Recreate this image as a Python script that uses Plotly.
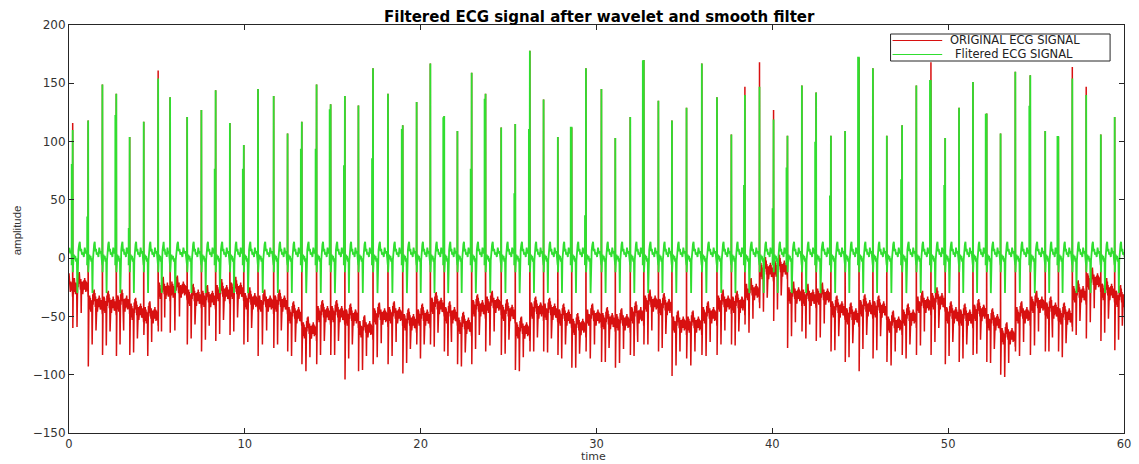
import plotly.graph_objects as go

# R-peak instants (s) and amplitudes of each heartbeat
beat_times = [
    0.21, 1.09, 1.90, 2.69, 3.45, 4.25, 5.07, 5.75, 6.72, 7.53, 8.34, 9.15,
    9.94, 10.75, 11.64, 12.43, 13.24, 14.08, 14.88, 15.69, 16.46, 17.29, 18.14,
    18.98, 19.77, 20.55, 21.34, 22.09, 22.90, 23.69, 24.58, 25.38, 26.21, 26.99,
    27.80, 28.59, 29.40, 30.28, 31.07, 31.92, 32.69, 33.52, 34.29, 35.12, 35.99,
    36.85, 37.67, 38.44, 39.27, 40.07,
    40.86, 41.68, 42.49, 43.33, 44.14, 44.93, 45.72, 46.51, 47.38, 48.19, 49.02,
    49.83, 50.62, 51.41, 52.19, 52.98, 53.82, 54.67, 55.52, 56.27, 57.06, 57.85,
    58.68, 59.47,
]
filtered_peaks = [
    110, 118, 149, 141, 104, 117, 154, 138, 121, 127, 144, 116,
    97, 145, 139, 107, 117, 149, 132, 139, 131, 163, 141,
    114, 134, 167, 122, 109, 159, 141, 112, 115, 178, 136,
    104, 112, 163, 145, 103, 121, 170, 135, 118, 129, 167,
    138, 106, 140, 147, 119,
    105, 148, 142, 105, 109, 172, 163, 105, 114, 148, 152,
    103, 129, 151, 124, 107, 160, 157, 109, 104, 154, 140,
    106, 121,
]
original_peaks = [
    116, 118, 149, 141, 104, 117, 161, 138, 121, 127, 144, 116,
    97, 145, 139, 107, 117, 149, 132, 139, 131, 163, 141,
    114, 134, 167, 122, 109, 159, 141, 112, 115, 178, 136,
    104, 112, 163, 145, 103, 121, 170, 135, 118, 129, 167,
    138, 106, 147, 168, 127,
    105, 148, 142, 105, 109, 172, 163, 105, 114, 148, 168,
    103, 129, 151, 124, 107, 160, 157, 109, 104, 164, 147,
    106, 121,
]
# level of the doubled (thicker) lower part of each filtered QRS stroke, 0 = none
filtered_notch = [
    80, 35, 0, 122, 25, 0, 0, 0, 0, 0, 76, 0,
    76, 0, 0, 0, 93, 93, 127, 79, 0, 85, 0,
    110, 0, 0, 120, 0, 76, 136, 0, 55, 110, 0,
    0, 112, 36, 0, 0, 0, 169, 0, 0, 0, 0,
    0, 0, 62, 0, 42,
    77, 0, 99, 53, 0, 172, 0, 0, 67, 0, 152,
    62, 0, 0, 123, 0, 0, 130, 0, 104, 0, 0,
    0, 0,
]
# baseline wander of the original recording, one level per beat
original_baseline = [
    -25, -40, -41, -40, -47, -50, -29, -28, -35, -36, -31, -29,
    -38, -40, -40, -50, -63, -49, -49, -52, -62, -51, -50,
    -56, -52, -42, -50, -59, -44, -41, -48, -63, -46, -47,
    -52, -60, -52, -55, -56, -50, -40, -43, -58, -58, -50,
    -40, -41, -30, -12, -10,
    -33, -35, -34, -45, -51, -44, -45, -58, -52, -41, -38,
    -50, -52, -48, -56, -68, -50, -41, -46, -51, -32, -21,
    -30, -36,
]
# S-wave minimum of the original recording for each beat
original_dips = [
    -60, -93, -83, -84, -83, -66, -63, -64, -74, -80, -71, -66,
    -74, -84, -77, -80, -91, -91, -83, -104, -97, -91, -91,
    -99, -74, -74, -80, -91, -91, -80, -83, -96, -80, -80,
    -83, -94, -80, -89, -94, -83, -74, -80, -101, -86, -83,
    -83, -74, -57, -43, -54,
    -77, -63, -71, -80, -89, -97, -86, -89, -83, -83, -83,
    -91, -89, -83, -89, -100, -80, -83, -80, -80, -63, -69,
    -71, -79,
]

# beat morphology between consecutive R peaks (fraction of the RR interval, amplitude)
filtered_frac = [0.04, 0.08, 0.12, 0.17, 0.22, 0.27, 0.30, 0.33, 0.37, 0.42,
                 0.46, 0.50, 0.55, 0.60, 0.66, 0.72, 0.78, 0.84, 0.90, 0.95]
filtered_shape = [-3, 3, -1, 2, -3, 0, -30, -2, 7, 12,
                  14, 6, 8, 3, 5, 1, 9, 4, 6, 0]
original_frac = [0.030, 0.055, 0.080, 0.105, 0.130, 0.155, 0.180, 0.205, 0.230, 0.255,
                 0.280, 0.300, 0.325, 0.350, 0.375, 0.400, 0.425, 0.450, 0.475, 0.500,
                 0.525, 0.550, 0.575, 0.600, 0.625, 0.650, 0.675, 0.700, 0.725, 0.750,
                 0.775, 0.800, 0.825, 0.850, 0.875, 0.900, 0.925, 0.950, 0.970]
original_shape = [-8, 5, -4, 8, -2, 6, -6, 4, -3, 3,
                  -34, -4, 9, 0, 12, 3, 13, 5, 10, -2,
                  7, -22, 4, -4, 5, -6, 3, -3, 6, -2,
                  8, 0, 6, -4, 5, -3, 4, -2, 2]

Q_FILTERED = -6
S_FILTERED = -12
Q_ORIGINAL = -8


def rr_after(i):
    if i + 1 < len(beat_times):
        return beat_times[i + 1] - beat_times[i]
    return beat_times[i] - beat_times[i - 1]


def filtered_series():
    xs, ys = [], []
    rr0 = rr_after(0)
    start = beat_times[0] - rr0
    for f, v in zip(filtered_frac, filtered_shape):
        t = start + f * rr0
        if t >= 0:
            xs.append(t)
            ys.append(v)
    for i, r in enumerate(beat_times):
        if filtered_notch[i]:
            xs += [r - 0.06, r - 0.055, r - 0.006]
            ys += [Q_FILTERED, filtered_notch[i], filtered_notch[i]]
        else:
            xs.append(r - 0.008)
            ys.append(Q_FILTERED)
        xs += [r, r + 0.008]
        ys += [filtered_peaks[i], S_FILTERED]
        rr = rr_after(i)
        for f, v in zip(filtered_frac, filtered_shape):
            xs.append(r + f * rr)
            ys.append(v)
    return xs, ys


def original_series():
    xs, ys = [], []
    rr0 = rr_after(0)
    start = beat_times[0] - rr0
    xs.append(0)
    ys.append(original_baseline[0] + 12)
    for f, v in zip(original_frac, original_shape):
        t = start + f * rr0
        if t > 0:
            xs.append(t)
            ys.append(original_baseline[0] + v)
    for i, r in enumerate(beat_times):
        prev_base = original_baseline[i - 1] if i else original_baseline[0]
        xs += [r - 0.006, r, r + 0.008]
        ys += [prev_base + Q_ORIGINAL, original_peaks[i], original_dips[i]]
        rr = rr_after(i)
        for f, v in zip(original_frac, original_shape):
            xs.append(r + f * rr)
            ys.append(original_baseline[i] + v)
    return xs, ys


RED = "rgb(216,16,16)"
GREEN = "rgb(48,222,48)"
AXIS = "#262626"

ox, oy = original_series()
fx, fy = filtered_series()

fig = go.Figure()
fig.add_trace(go.Scatter(x=ox, y=oy, mode="lines", name="ORIGINAL ECG SIGNAL",
                         line=dict(color=RED, width=1.5), showlegend=False))
fig.add_trace(go.Scatter(x=fx, y=fy, mode="lines", name="Flitered ECG SIGNAL",
                         line=dict(color=GREEN, width=1.8), showlegend=False))

W, H = 1139, 464
L, R, T, B = 69, 8, 25, 31
pw, ph = W - L - R, H - T - B


def px(xp):
    return (xp - L) / pw


def py(yp):
    return (H - B - yp) / ph


x_tick_font = dict(family="DejaVu Sans", size=11.5, color="#333333")
y_tick_font = dict(family="DejaVu Sans", size=12, color="#333333")
fig.update_layout(
    width=W, height=H,
    margin=dict(l=L, r=R, t=T, b=B),
    paper_bgcolor="white", plot_bgcolor="white",
    xaxis=dict(range=[0, 60], tickvals=[0, 10, 20, 30, 40, 50, 60],
               ticks="inside", ticklen=5, tickcolor=AXIS, showline=True,
               linecolor=AXIS, linewidth=1, mirror="ticks", showgrid=False,
               zeroline=False, tickfont=x_tick_font),
    yaxis=dict(range=[-150, 200], tickvals=[-150, -100, -50, 0, 50, 100, 150, 200],
               ticks="inside", ticklen=5, tickcolor=AXIS, showline=True,
               linecolor=AXIS, linewidth=1, mirror="ticks", showgrid=False,
               zeroline=False, tickfont=y_tick_font),
)

# title and axis labels
fig.add_annotation(text="<b>Filtered ECG signal after wavelet and smooth filter</b>",
                   xref="paper", yref="paper", x=px(603), y=py(16.5),
                   xanchor="center", yanchor="middle", showarrow=False,
                   font=dict(family="DejaVu Sans", size=15, color="black"))
fig.add_annotation(text="time", xref="paper", yref="paper", x=px(597), y=py(464),
                   xanchor="center", yanchor="bottom", showarrow=False, borderpad=0,
                   font=dict(family="DejaVu Sans", size=11, color="#333333"))
fig.add_annotation(text="amplitude", xref="paper", yref="paper", x=px(17), y=py(230),
                   xanchor="center", yanchor="middle", showarrow=False, textangle=-90,
                   font=dict(family="Liberation Sans", size=11.5, color="#333333"))

# legend box
fig.add_shape(type="rect", xref="paper", yref="paper",
              x0=px(896), x1=px(1117), y0=py(61), y1=py(34),
              line=dict(color=AXIS, width=1), fillcolor="white", layer="above")
legend_rows = [("ORIGINAL ECG SIGNAL", RED, 40.5, 955), ("Flitered ECG SIGNAL", GREEN, 54.5, 960)]
for label, color, yrow, xtext in legend_rows:
    fig.add_shape(type="line", xref="paper", yref="paper",
                  x0=px(898), x1=px(948), y0=py(yrow), y1=py(yrow),
                  line=dict(color=color, width=1), layer="above")
    fig.add_annotation(text=label, xref="paper", yref="paper", x=px(xtext), y=py(yrow),
                       xanchor="left", yanchor="middle", showarrow=False, borderpad=0,
                       font=dict(family="DejaVu Sans", size=11.5, color="#222222"))

fig.write_html("out.html")
